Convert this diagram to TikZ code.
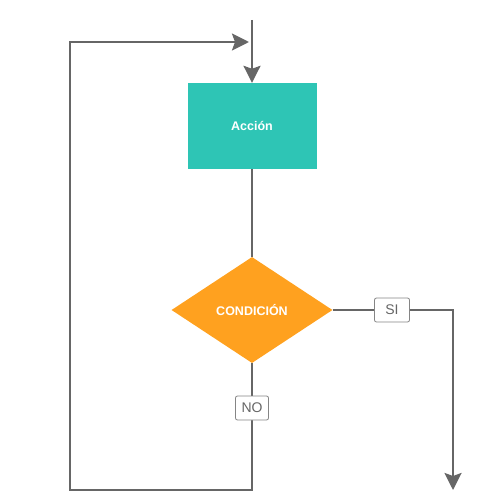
\documentclass[tikz,border=0pt]{standalone}
\usepackage{fontspec}
\setmainfont{Liberation Sans}
\usetikzlibrary{shapes.geometric,arrows.meta}
\definecolor{teal1}{HTML}{2EC5B5}
\definecolor{orange1}{HTML}{FFA11F}
\definecolor{line1}{HTML}{666666}
\begin{document}
\begin{tikzpicture}[x=1pt,y=-1pt,
  conn/.style={draw=line1,line width=2.5pt},
  arr/.style={conn,-{Stealth[length=17pt,width=17pt,inset=3pt]}},
  lbl/.style={draw=line1!80,line width=0.8pt,rounded corners=2pt,fill=white,text=line1,font=\fontsize{14}{16}\selectfont,inner sep=0pt,minimum height=24pt}]
\useasboundingbox (0,0) rectangle (500,500);
\node[fill=teal1,minimum width=129pt,minimum height=86pt,inner sep=0pt,text=white,font=\bfseries\fontsize{12.5}{14}\selectfont] (acc) at (252,126) {Acción};
\node[diamond,fill=orange1,minimum width=161pt,minimum height=106pt,inner sep=0pt,aspect=1.52,text=white,font=\bfseries\fontsize{12.5}{14}\selectfont] (cond) at (252,310) {CONDICIÓN};
\coordinate (top) at (252,20);
\coordinate (si1) at (453,310);
\coordinate (siend) at (453,490);
\coordinate (b1) at (252,490);
\coordinate (b2) at (70,490);
\coordinate (b3) at (70,42);
\coordinate (b4) at (249,42);
\draw[arr] (top) -- (acc.north);
\draw[conn] (acc.south) -- (cond.north);
\draw[arr] (cond.east) -- (si1) -- (siend);
\draw[arr] (cond.south) -- (b1) -- (b2) -- (b3) -- (b4);
\node[lbl,minimum width=35pt] (si) at (392,310) {SI};
\node[lbl,minimum width=33pt] (no) at (252,408) {NO};
\end{tikzpicture}
\end{document}
